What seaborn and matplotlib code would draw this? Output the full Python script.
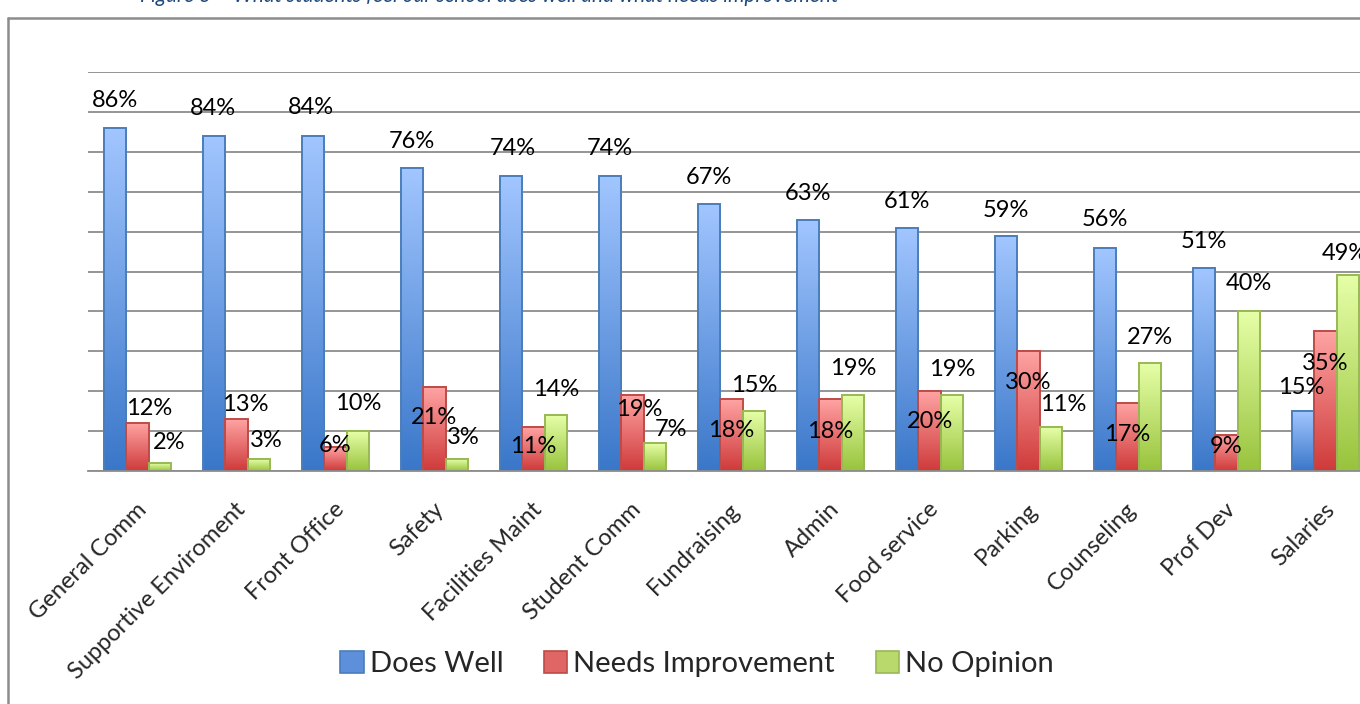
import numpy as np
import pandas as pd
import matplotlib
matplotlib.use("Agg")
import matplotlib.pyplot as plt
import matplotlib.transforms as mtransforms
from matplotlib.colors import LinearSegmentedColormap
from matplotlib.patches import Patch
from matplotlib.lines import Line2D
import seaborn as sns

# ---- data -------------------------------------------------------------
categories = ["General Comm", "Supportive Enviroment", "Front Office", "Safety",
              "Facilities Maint", "Student Comm", "Fundraising", "Admin",
              "Food service", "Parking", "Counseling", "Prof Dev", "Salaries"]
series_names = ["Does Well", "Needs Improvement", "No Opinion"]
does_well = [86, 84, 84, 76, 74, 74, 67, 63, 61, 59, 56, 51, 15]
needs_improvement = [12, 13, 6, 21, 11, 19, 18, 18, 20, 30, 17, 9, 35]
no_opinion = [2, 3, 10, 3, 14, 7, 15, 19, 19, 11, 27, 40, 49]

# ---- styling ----------------------------------------------------------
grad_bottom = ["#3a77c9", "#cf3a3a", "#98c33c"]
grad_top = ["#a2c6ff", "#ffa3a3", "#e6ffa8"]
edge_colors = ["#4a7ebb", "#be4b48", "#98b954"]
swatch_colors = ["#5d8fdb", "#e06666", "#b9d96c"]

# label offsets (pixels, relative to the top centre of each bar)
label_offsets = [
    [(0, 27), (-1, 27), (-2, 28), (0, 26), (2, 27), (0, 27), (0, 26),
     (0, 26), (0, 26), (0, 25), (0, 28), (0, 26), (-2, 24)],
    [(12, 15), (9, 15), (0, 2), (0, -30), (0, -19), (7, -14), (0, -31),
     (0, -32), (0, -30), (0, -31), (0, -31), (0, -11), (0, -32)],
    [(9, 21), (7, 19), (0, 28), (6, 22), (0, 26), (16, 14), (0, 26),
     (0, 27), (0, 26), (12, 23), (0, 26), (0, 28), (-3, 22)],
]

sns.set_style("white")
plt.rcParams["font.family"] = ["Lato", "DejaVu Sans"]

W, H = 1360, 704
fig = plt.figure(figsize=(W / 100, H / 100), dpi=100)
ax = fig.add_axes([88 / W, 233 / H, 1287 / W, 399 / H])

df = pd.DataFrame({
    "Category": categories * 3,
    "Response": [s for s in series_names for _ in categories],
    "Percent": does_well + needs_improvement + no_opinion,
})

sns.barplot(data=df, x="Category", y="Percent", hue="Response",
            order=categories, hue_order=series_names, width=0.68, gap=0,
            palette=swatch_colors, legend=False, ax=ax, zorder=3)

# vertical gradient fill inside every bar
grad = np.linspace(0, 1, 256).reshape(-1, 1)
for s, container in enumerate(ax.containers):
    cmap = LinearSegmentedColormap.from_list(
        f"g{s}", [grad_bottom[s], grad_top[s]])
    for i, bar in enumerate(container):
        x0, w, h = bar.get_x(), bar.get_width(), bar.get_height()
        im = ax.imshow(grad, extent=[x0, x0 + w, 0, h], origin="lower",
                       cmap=cmap, aspect="auto", zorder=2,
                       interpolation="bilinear")
        im.set_clip_path(bar)
        bar.set_facecolor("none")
        bar.set_edgecolor(edge_colors[s])
        bar.set_linewidth(1.4)
        dx, dy = label_offsets[s][i]
        ax.annotate(f"{int(round(h))}%", xy=(x0 + w / 2, h),
                    xytext=(dx, dy), textcoords="offset pixels",
                    ha="center", va="center", fontsize=17, color="black",
                    zorder=6, annotation_clip=False)

# ---- axes -------------------------------------------------------------
grid_color = "#8c8c8c"
ax.set_xlim(-0.5, len(categories) - 0.5)
ax.set_ylim(0, 100)
ax.set_yticks(np.arange(0, 101, 10))
ax.set_yticklabels([])
ax.tick_params(axis="y", length=0)
ax.yaxis.grid(True, color=grid_color, linewidth=1.3)
ax.xaxis.grid(False)
ax.set_axisbelow(True)
for side in ("left", "top", "right"):
    ax.spines[side].set_visible(False)
ax.spines["bottom"].set_color(grid_color)
ax.spines["bottom"].set_linewidth(1.3)
ax.spines["bottom"].set_zorder(4)
ax.set_xlabel("")
ax.set_ylabel("")

ax.set_xticks(np.arange(len(categories)))
ax.set_xticks(np.arange(-0.5, len(categories), 1), minor=True)
ax.tick_params(axis="x", which="major", length=0, pad=20)
ax.tick_params(axis="x", which="minor", length=6.5, width=1.2,
               color=grid_color, direction="out")
ax.set_xticklabels(categories, fontsize=17)
shift = mtransforms.ScaledTranslation(-2 / 100, 0, fig.dpi_scale_trans)
for lbl in ax.get_xticklabels():
    lbl.set_rotation(45)
    lbl.set_ha("right")
    lbl.set_va("top")
    lbl.set_rotation_mode("anchor")
    lbl.set_transform(lbl.get_transform() + shift)

# ---- legend -----------------------------------------------------------
handles = [Patch(facecolor=swatch_colors[k], edgecolor=edge_colors[k],
                 linewidth=1.2, label=series_names[k]) for k in range(3)]
fig.legend(handles=handles, loc="center", bbox_to_anchor=(697 / W, 40 / H),
           ncol=3, frameon=False, fontsize=21, handlelength=0.8,
           handleheight=0.8, handletextpad=0.2, columnspacing=1.4)

# ---- chart frame and caption -----------------------------------------
frame_color = "#8c8c8c"
fig.add_artist(Line2D([8 / W, 8 / W], [0, 1 - 18 / H],
                      transform=fig.transFigure, color=frame_color, lw=1.8))
fig.add_artist(Line2D([8 / W, 1], [1 - 18 / H, 1 - 18 / H],
                      transform=fig.transFigure, color=frame_color, lw=1.8))
fig.text(140 / W, 1 - 2 / H,
         "Figure 3 \u2013 What students feel our school does well and what needs improvement",
         fontsize=15, fontstyle="italic", color="#1f497d", va="baseline")

fig.savefig("out.png", dpi=100)
